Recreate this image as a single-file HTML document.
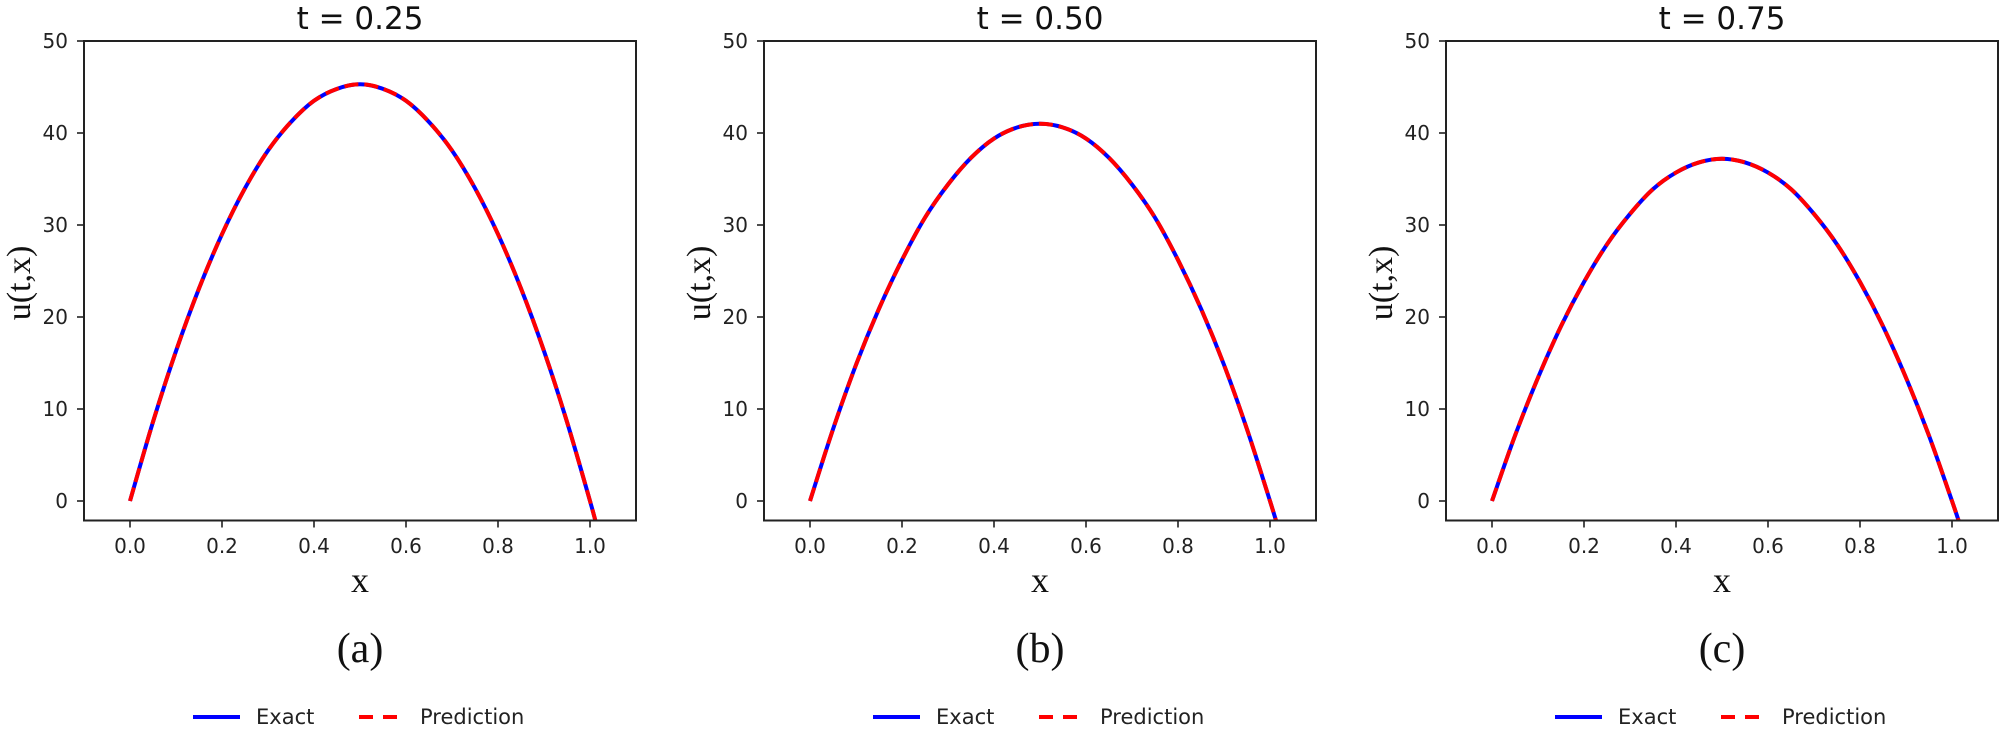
<!DOCTYPE html>
<html><head><meta charset="utf-8">
<style>
html,body{margin:0;padding:0;background:#fff;}
svg{display:block;}
.tick{font-family:"DejaVu Sans","Liberation Sans",sans-serif;font-size:20px;fill:#222;}
.title{font-family:"DejaVu Sans","Liberation Sans",sans-serif;font-size:31px;fill:#111;}
.serif{font-family:"Liberation Serif",serif;fill:#111;}
.leg{font-family:"DejaVu Sans","Liberation Sans",sans-serif;font-size:21px;fill:#222;}
</style></head>
<body>
<svg id="fig" width="2000" height="729" xmlns="http://www.w3.org/2000/svg"></svg>
<script>
const xValues = [0,0.05,0.1,0.15,0.2,0.25,0.3,0.35,0.4,0.45,0.5,0.55,0.6,0.65,0.7,0.75,0.8,0.85,0.9,0.95,1.0,1.02];
const seriesA = [0,8.6,16.3,23.1,29.0,34.0,38.1,41.2,43.5,44.8,45.3,44.8,43.5,41.2,38.1,34.0,29.0,23.1,16.3,8.6,0,-3.7];
const seriesB = [0,7.8,14.8,20.9,26.2,30.8,34.4,37.3,39.4,40.6,41.0,40.6,39.4,37.3,34.4,30.8,26.2,20.9,14.8,7.8,0,-3.3];
const seriesC = [0,7.1,13.4,19.0,23.8,27.9,31.2,33.9,35.7,36.8,37.2,36.8,35.7,33.9,31.2,27.9,23.8,19.0,13.4,7.1,0,-3.0];
const titles = ["t = 0.25","t = 0.50","t = 0.75"];
const captions = ["(a)","(b)","(c)"];
const xTicks = [0,0.2,0.4,0.6,0.8,1.0];
const xTickLabels = ["0.0","0.2","0.4","0.6","0.8","1.0"];
const yTicks = [0,10,20,30,40,50];
const yTickLabels = ["0","10","20","30","40","50"];

const NS="http://www.w3.org/2000/svg";
const svg=document.getElementById('fig');
function mk(tag,attrs,parent){const e=document.createElementNS(NS,tag);for(const k in attrs)e.setAttribute(k,attrs[k]);(parent||svg).appendChild(e);return e;}
function smoothPath(p){
  let d='M'+p[0][0].toFixed(2)+','+p[0][1].toFixed(2);
  for(let i=0;i<p.length-1;i++){
    const p0=p[Math.max(i-1,0)],p1=p[i],p2=p[i+1],p3=p[Math.min(i+2,p.length-1)];
    const c1=[p1[0]+(p2[0]-p0[0])/6,p1[1]+(p2[1]-p0[1])/6];
    const c2=[p2[0]-(p3[0]-p1[0])/6,p2[1]-(p3[1]-p1[1])/6];
    d+=' C'+c1[0].toFixed(2)+','+c1[1].toFixed(2)+' '+c2[0].toFixed(2)+','+c2[1].toFixed(2)+' '+p2[0].toFixed(2)+','+p2[1].toFixed(2);
  }
  return d;
}

const lefts=[84,764,1446];
const W=552, TOP=41, BOT=520.5;
const XMIN=-0.1,XMAX=1.1,YMIN=-2.12,YMAX=50;
const allSeries=[seriesA,seriesB,seriesC];
const ids=['a','b','c'];

lefts.forEach((L,i)=>{
  const sx=v=>L+(v-XMIN)/(XMAX-XMIN)*W;
  const sy=v=>BOT-(v-YMIN)/(YMAX-YMIN)*(BOT-TOP);
  const g=mk('g',{});
  
  
  const cp=mk('clipPath',{id:'clip'+i},g);
  mk('rect',{x:L,y:TOP,width:W,height:BOT-TOP},cp);
  const pts=xValues.map((x,k)=>[sx(x),sy(allSeries[i][k])]);
  const d=smoothPath(pts);
  const ex=mk('path',{d:d,fill:'none',stroke:'#0000ff','stroke-width':4,'stroke-linejoin':'round','clip-path':'url(#clip'+i+')'},g);
  
  
  const pr=mk('path',{d:d,fill:'none',stroke:'#ff0000','stroke-width':4,'stroke-dasharray':'14 6','clip-path':'url(#clip'+i+')'},g);
  
  
  const fr=mk('rect',{x:L,y:TOP,width:W,height:BOT-TOP,fill:'none',stroke:'#222','stroke-width':2},g);
  
  
  xTicks.forEach((t,k)=>{
    mk('line',{x1:sx(t),x2:sx(t),y1:BOT,y2:BOT+7,stroke:'#222','stroke-width':1.6},g);
    const tx=mk('text',{x:sx(t),y:553,'text-anchor':'middle',class:'tick'},g);
    tx.textContent=xTickLabels[k];
    
    
  });
  yTicks.forEach((t,k)=>{
    mk('line',{x1:L-7,x2:L,y1:sy(t),y2:sy(t),stroke:'#222','stroke-width':1.6},g);
    const ty=mk('text',{x:L-16,y:sy(t)+7,'text-anchor':'end',class:'tick'},g);
    ty.textContent=yTickLabels[k];
    
    
  });
  const cx=L+W/2;
  const ti=mk('text',{x:cx,y:29,'text-anchor':'middle',class:'title'},g);
  ti.textContent=titles[i];
  
  
  const xl=mk('text',{x:cx,y:592,'text-anchor':'middle',class:'serif','font-size':36},g);
  xl.textContent='x';
  
  
  const yl=mk('text',{x:0,y:0,'text-anchor':'middle',class:'serif','font-size':34,transform:'translate('+(L-54)+',283) rotate(-90)'},g);
  yl.textContent='u(t,x)';
  
  
  const ca=mk('text',{x:cx,y:662,'text-anchor':'middle',class:'serif','font-size':42},g);
  ca.textContent=captions[i];
  
  
  const lg=mk('g',{},g);
  
  
  mk('line',{x1:L+109,x2:L+156,y1:717,y2:717,stroke:'#0000ff','stroke-width':4},lg);
  const le=mk('text',{x:L+172,y:724,class:'leg'},lg);
  le.textContent='Exact';
  
  
  mk('line',{x1:L+275,x2:L+313,y1:717,y2:717,stroke:'#ff0000','stroke-width':4,'stroke-dasharray':'14 10'},lg);
  const lp=mk('text',{x:L+336,y:724,class:'leg'},lg);
  lp.textContent='Prediction';
  
  
});
</script>
</body></html>
